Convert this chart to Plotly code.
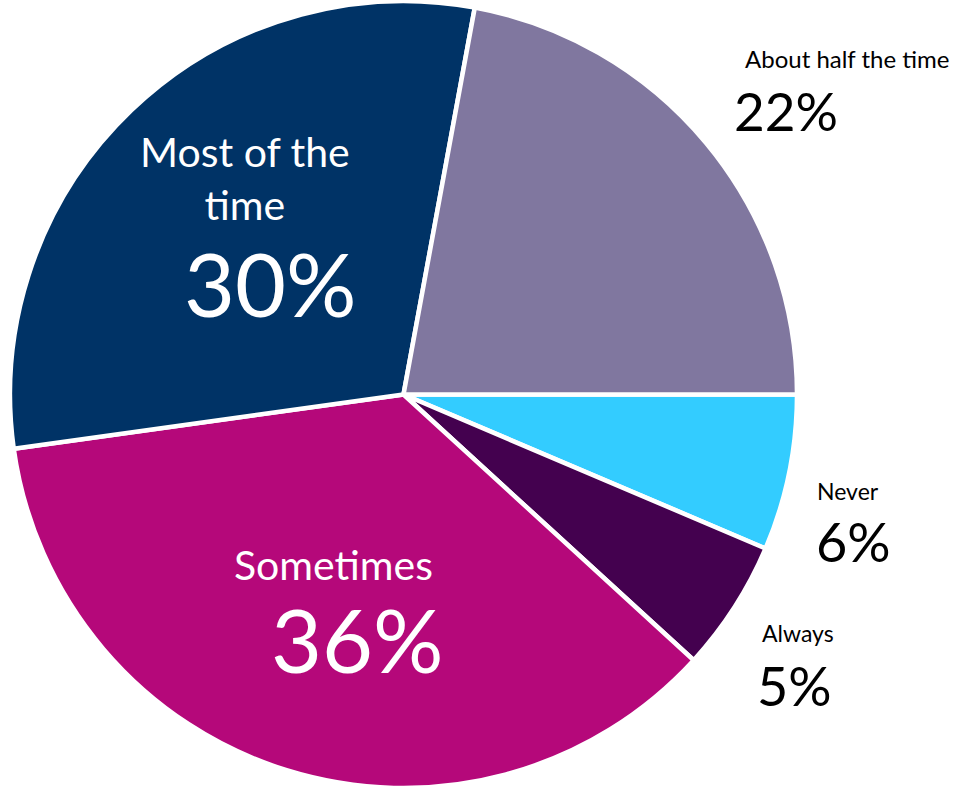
import plotly.graph_objects as go

# Data
categories = ["Never", "Always", "Sometimes", "Most of the time", "About half the time"]
values = [6.4, 5.4, 36.0, 30.1, 22.1]
colors = ["#33CCFF", "#44014F", "#B5087A", "#003366", "#80779F"]

W, H = 954, 788
FONT = "Lato"

fig = go.Figure(go.Pie(
    labels=categories,
    values=values,
    sort=False,
    direction="clockwise",
    rotation=90,
    marker=dict(colors=colors, line=dict(color="white", width=4.5)),
    textinfo="none",
    hoverinfo="label+percent",
    showlegend=False,
    domain=dict(x=[10 / W, 797 / W], y=[0, 1 - 1 / H]),
))

# label layout (pixel positions of name and percentage, anchors, colours, sizes)
label_style = {
    "Never":               dict(name_xy=(815, 491), pct_xy=(814, 541), anchor="left",   color="black", ns=23, ps=54),
    "Always":              dict(name_xy=(760, 633), pct_xy=(755, 685), anchor="left",   color="black", ns=23, ps=54),
    "Sometimes":           dict(name_xy=(333, 564), pct_xy=(357, 639), anchor="center", color="white", ns=41, ps=88),
    "Most of the time":    dict(name_xy=(245, 178), pct_xy=(270, 283), anchor="center", color="white", ns=41, ps=88),
    "About half the time": dict(name_xy=(743, 59),  pct_xy=(732, 111), anchor="left",   color="black", ns=24, ps=53),
}
name_text = {"Most of the time": "Most of the<br>time"}

annotations = []
for cat, v in zip(categories, values):
    st = label_style[cat]
    for key, txt, size in (("name_xy", name_text.get(cat, cat), st["ns"]),
                           ("pct_xy", f"{v:.0f}%", st["ps"])):
        px, py = st[key]
        annotations.append(dict(
            x=px / W, y=1 - py / H, xref="paper", yref="paper",
            xanchor=st["anchor"], yanchor="middle", align="center",
            text=txt, showarrow=False,
            font=dict(family=FONT, size=size, color=st["color"]),
        ))

fig.update_layout(
    width=W, height=H,
    margin=dict(l=0, r=0, t=0, b=0),
    paper_bgcolor="white", plot_bgcolor="white",
    annotations=annotations,
)

fig.write_html("out.html", config={"displayModeBar": False},
               post_script="document.body.style.margin='0';")
